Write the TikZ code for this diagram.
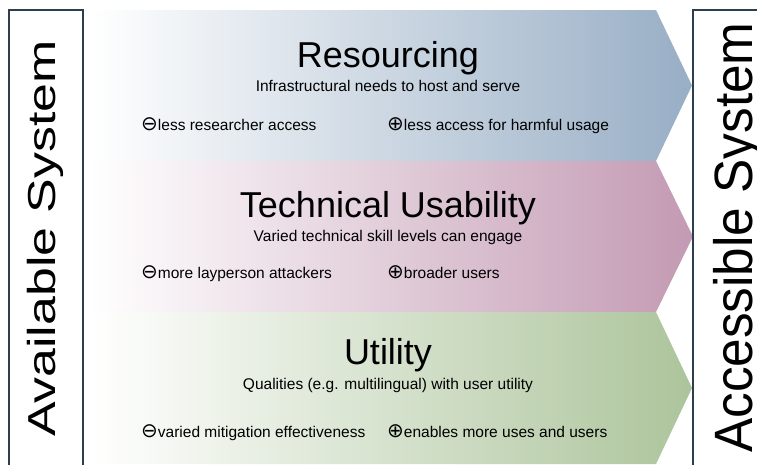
\documentclass[tikz,border=0pt]{standalone}
\usepackage{fontspec}
\setmainfont{Liberation Sans}
\newfontfamily\symfont{DejaVu Sans}
\definecolor{blueR}{RGB}{152,174,197}
\definecolor{pinkR}{RGB}{195,154,179}
\definecolor{greenR}{RGB}{172,196,155}
\definecolor{frameC}{RGB}{45,62,78}
\tikzset{
  titletxt/.style={anchor=base,inner sep=0pt,font=\fontsize{36}{36}\selectfont},
  subtxt/.style={anchor=base,inner sep=0pt,font=\fontsize{15.5}{15.5}\selectfont},
  itemtxt/.style={anchor=base west,inner sep=0pt,font=\fontsize{15.5}{15.5}\selectfont},
  sidebox/.style={draw=frameC,line width=1.5pt},
}
\newcommand{\minusicon}{{\symfont\fontsize{20}{20}\selectfont ⊖}}
\newcommand{\plusicon}{{\symfont\fontsize{20}{20}\selectfont ⊕}}
\begin{document}
\begin{tikzpicture}[x=1pt,y=-1pt]
\useasboundingbox (0,0) rectangle (757,464);
\begin{scope}
\clip (0,0) rectangle (757,464);
% arrows
\shade[left color=white,right color=blueR] (91,10) -- (656,10) -- (692,85.5) -- (656,161) -- (91,161) -- cycle;
\shade[left color=white,right color=pinkR] (91,161) -- (656,161) -- (693,236.5) -- (656,312) -- (91,312) -- cycle;
\shade[left color=white,right color=greenR] (91,312) -- (656,312) -- (692,388) -- (656,464) -- (91,464) -- cycle;
% side boxes
\draw[sidebox] (9,480) -- (9,10) -- (83,10) -- (83,480);
\draw[sidebox] (693,480) -- (693,10) -- (780,10) -- (780,480);
\end{scope}
\node[rotate=90,anchor=base,inner sep=0pt,font=\fontsize{39}{39}\selectfont] (avail) at (55.5,238.5) {\scalebox{1.33}[1]{Available System}};
\node[rotate=90,anchor=base,inner sep=0pt,font=\fontsize{54}{54}\selectfont] (access) at (752,237.5) {\scalebox{0.95}[1]{Accessible System}};
% Resourcing
\node[titletxt] (t1) at (388,67) {Resourcing};
\node[subtxt] (s1) at (388,91) {Infrastructural needs to host and serve};
\node[itemtxt] (m1) at (141,130) {\minusicon less researcher access};
\node[itemtxt] (p1) at (387,130) {\plusicon less access for harmful usage};
% Technical Usability
\node[titletxt] (t2) at (388,217) {Technical Usability};
\node[subtxt] (s2) at (388,241) {Varied technical skill levels can engage};
\node[itemtxt] (m2) at (141,278) {\minusicon more layperson attackers};
\node[itemtxt] (p2) at (387,278) {\plusicon broader users};
% Utility
\node[titletxt] (t3) at (388,364) {Utility};
\node[subtxt] (s3) at (388,389) {Qualities (e.g. multilingual) with user utility};
\node[itemtxt] (m3) at (141,437) {\minusicon varied mitigation effectiveness};
\node[itemtxt] (p3) at (387,437) {\plusicon enables more uses and users};
\end{tikzpicture}
\end{document}
